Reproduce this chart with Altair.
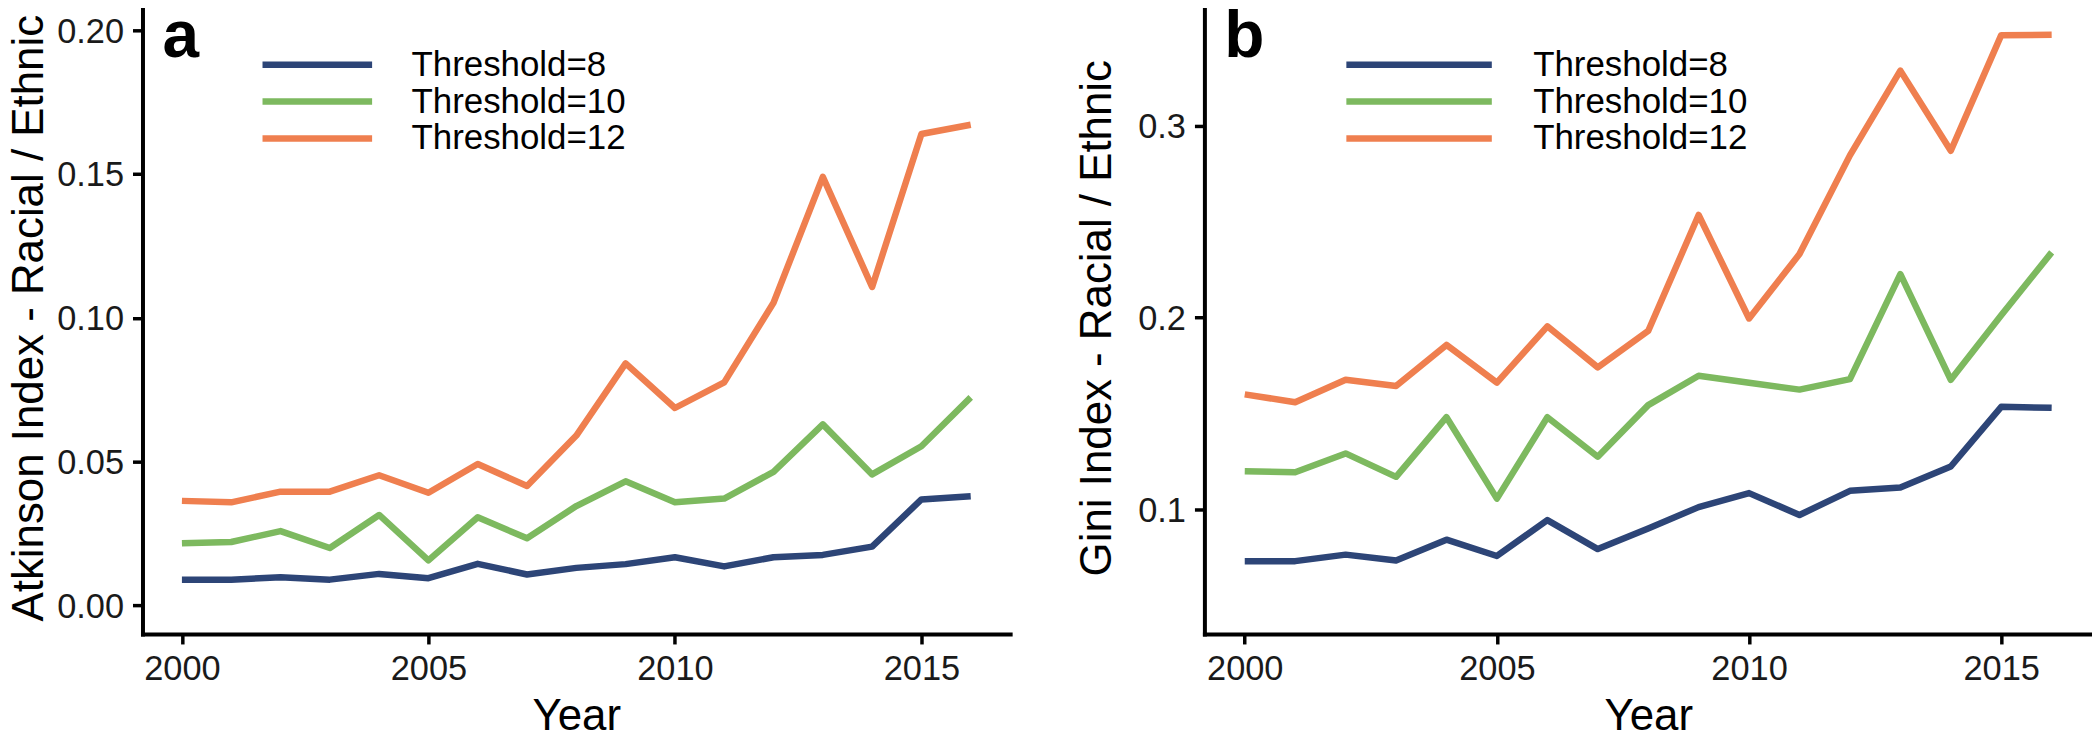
import altair as alt
import pandas as pd

FONT = "Liberation Sans"

years = list(range(2000, 2017))
series = ["Threshold=8", "Threshold=10", "Threshold=12"]
colors = ["#2d4577", "#7db95f", "#ef7f4f"]

atk_t8 = [0.0089, 0.0089, 0.0097, 0.0089, 0.0109, 0.0094, 0.0144, 0.0107, 0.0130,
          0.0143, 0.0167, 0.0135, 0.0167, 0.0175, 0.0204, 0.0368, 0.0379]
atk_t10 = [0.0216, 0.0220, 0.0258, 0.0199, 0.0314, 0.0156, 0.0306, 0.0233, 0.0345,
           0.0431, 0.0358, 0.0371, 0.0464, 0.0629, 0.0455, 0.0553, 0.0723]
atk_t12 = [0.0363, 0.0358, 0.0395, 0.0395, 0.0452, 0.0391, 0.0491, 0.0415, 0.0590,
           0.0841, 0.0686, 0.0775, 0.1052, 0.1490, 0.1107, 0.1639, 0.1671]

gini_t8 = [0.0730, 0.0730, 0.0764, 0.0733, 0.0842, 0.0757, 0.0944, 0.0793, 0.0900,
           0.1012, 0.1085, 0.0971, 0.1097, 0.1114, 0.1224, 0.1535, 0.1530]
gini_t10 = [0.1199, 0.1194, 0.1292, 0.1170, 0.1481, 0.1056, 0.1481, 0.1275, 0.1544,
            0.1697, 0.1661, 0.1625, 0.1680, 0.2227, 0.1676, 0.2013, 0.2341]
gini_t12 = [0.1600, 0.1559, 0.1676, 0.1644, 0.1858, 0.1661, 0.1955, 0.1741, 0.1931,
            0.2536, 0.1996, 0.2332, 0.2847, 0.3289, 0.2871, 0.3474, 0.3476]

x_ticks = [2000, 2005, 2010, 2015]
atk_ticks = [0.0, 0.05, 0.10, 0.15, 0.20]
gini_ticks = [0.1, 0.2, 0.3]


def long_df(a, b, c):
    return pd.DataFrame({
        "year": years * 3,
        "series": [s for s in series for _ in years],
        "value": a + b + c,
    })


df_a = long_df(atk_t8, atk_t10, atk_t12)
df_b = long_df(gini_t8, gini_t10, gini_t12)

H = 635
LW = 6.5


def panel(df, letter, ytitle, ydomain, yticks, yfmt, width, ytitle_x,
          legend_x, sym_path, sym_off, lab_off):
    color = alt.Color(
        "series:N",
        scale=alt.Scale(domain=series, range=colors),
        legend=alt.Legend(
            title=None, orient="none", legendX=legend_x, legendY=45,
            symbolType=sym_path, symbolSize=900, symbolStrokeWidth=LW,
            symbolOffset=sym_off, labelOffset=lab_off, labelFontSize=35,
            labelFont=FONT, labelColor="black", rowPadding=0, padding=0,
            labelLimit=500,
        ),
    )
    axis_common = dict(
        domainColor="black", domainWidth=4, domainCap="square",
        tickColor="black", tickWidth=3.5, tickSize=10,
        labelFont=FONT, labelFontSize=34.5, labelColor="#1a1a1a",
        titleFont=FONT, titleFontSize=44, titleColor="black",
        titleFontWeight="normal", grid=False,
    )
    x = alt.X(
        "year:Q",
        scale=alt.Scale(domain=[1999.2, 2016.8], nice=False, zero=False),
        axis=alt.Axis(values=x_ticks, format="d", title="Year",
                      labelPadding=9, titleX=width / 2, titleY=96,
                      titleBaseline="alphabetic", **axis_common),
    )
    y = alt.Y(
        "value:Q",
        scale=alt.Scale(domain=ydomain, nice=False, zero=False),
        axis=alt.Axis(values=yticks, format=yfmt, title=ytitle,
                      labelPadding=9, labelOffset=2, titleX=ytitle_x,
                      titleY=H / 2, titleBaseline="alphabetic",
                      **axis_common),
    )
    title = alt.Title(letter, fontSize=66, fontWeight="bold", font=FONT,
                      anchor="start", frame="group", offset=-67,
                      baseline="alphabetic", dx=20, dy=55, color="black")
    return (
        alt.Chart(df, title=title)
        .mark_line(strokeWidth=LW, strokeJoin="round")
        .encode(x=x, y=y, color=color)
        .properties(width=width, height=H)
    )


pa = panel(df_a, "a", "Atkinson Index - Racial / Ethnic", [-0.01, 0.21],
           atk_ticks, ".2f", 871, -100, 120, "M-3.667,0H3.667", 37, 76)
pb = panel(df_b, "b", "Gini Index - Racial / Ethnic", [0.035, 0.365],
           gini_ticks, ".1f", 891, -94, 135, "M-4.867,0H4.867", 62, 96)

chart = (
    alt.hconcat(pa, pb, spacing=195)
    .resolve_scale(color="independent")
    .resolve_legend(color="independent")
    .properties(
        bounds="flush",
        padding={"left": 0, "top": -8, "right": 0, "bottom": 0},
        background="white",
    )
    .configure_view(stroke=None)
)

chart.save("out.html", embed_options={"renderer": "svg", "actions": False})
